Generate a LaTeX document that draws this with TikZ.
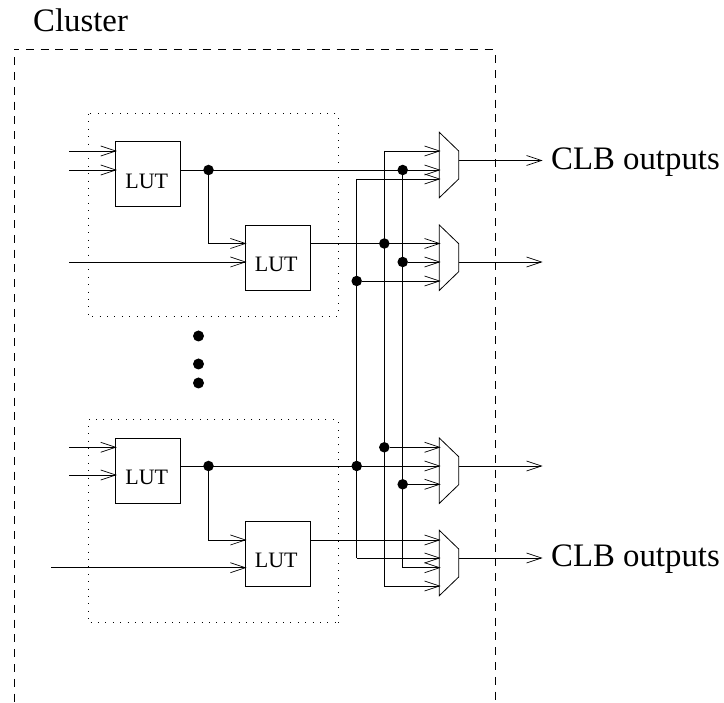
\documentclass[tikz,border=0pt]{standalone}
\usepackage{fontspec}
\setmainfont{Liberation Serif}
\usetikzlibrary{arrows.meta}
\tikzset{
  wire/.style={line width=0.9pt},
  arr/.style={wire,-{Straight Barb[length=15pt,width=10pt,line width=0.7pt]}},
  lut/.style={draw,line width=0.9pt,minimum width=65pt,minimum height=65pt,inner sep=0pt,
     font=\fontsize{22}{22}\selectfont,text height=29pt,text depth=0pt},
  junction/.style={circle,fill=black,inner sep=0pt,minimum size=10.5pt},
  bigdot/.style={circle,fill=black,inner sep=0pt,minimum size=11pt},
  dashedbox/.style={line width=0.9pt,dash pattern=on 8pt off 6.8pt},
  dottedbox/.style={line width=1pt,dash pattern=on 1pt off 6.4pt},
  lbl/.style={anchor=base west,inner sep=0pt,font=\fontsize{32.8}{33}\selectfont},
  muxshape/.style={line width=0.8pt}
}
\newcommand{\muxat}[2]{%
  \coordinate (#1) at (439.3,#2);
  \draw[muxshape] (#1) -- ++(19.4,18.7) -- ++(0,28) -- ++(-19.4,18.7) -- cycle;
}
\begin{document}
\begin{tikzpicture}[x=1pt,y=-1pt]
\useasboundingbox (0,0) rectangle (724,703);
% outer cluster
\coordinate (ctl) at (14,49.5);
\coordinate (ctr) at (495,49.5);
\coordinate (cbl) at (14,703);
\coordinate (cbr) at (495,699.5);
\draw[dashedbox,dash phase=3pt] (ctl) -- (ctr);
\draw[dashedbox,dash phase=7pt] (ctl) -- (cbl);
\draw[dashedbox,dash phase=9pt] (ctr) -- (cbr);
\node[lbl] (cluster) at (33,31.5) {Cluster};
% dotted groups
\draw[dottedbox] (88,114) rectangle (338,317);
\draw[dottedbox] (338,623) -- (338,420) -- (88,420) -- (88,623) -- (338,623);
% LUTs
\node[lut] (l1) at (148.2,174.2) {\hspace*{-3pt}LUT};
\node[lut] (l2) at (277.8,257.5) {\hspace*{-3pt}LUT};
\node[lut] (l3) at (148.2,470.5) {\hspace*{-3pt}LUT};
\node[lut] (l4) at (277.8,553.5) {\hspace*{-3pt}LUT};
% muxes
\muxat{m1}{132.3}
\muxat{m2}{225}
\muxat{m3}{438}
\muxat{m4}{530.3}
% input stubs
\coordinate (s1a) at (69,151);
\coordinate (s1b) at (69,170);
\coordinate (s2b) at (69,262);
\coordinate (s3a) at (69,447.3);
\coordinate (s3b) at (69,475);
\coordinate (s4b) at (51,567.7);
\coordinate (t1a) at (116.8,151);
\coordinate (t1b) at (116.8,170);
\coordinate (t2a) at (246.5,243.5);
\coordinate (t2b) at (246.5,262);
\coordinate (t3a) at (116.8,447.3);
\coordinate (t3b) at (116.8,475);
\coordinate (t4a) at (246.5,540);
\coordinate (t4b) at (246.5,567.7);
\draw[arr] (s1a) -- (t1a);
\draw[arr] (s1b) -- (t1b);
\draw[arr] (s2b) -- (t2b);
\draw[arr] (s3a) -- (t3a);
\draw[arr] (s3b) -- (t3b);
\draw[arr] (s4b) -- (t4b);
% mux input points
\coordinate (i1a) at (440.7,151);
\coordinate (i1b) at (440.7,170);
\coordinate (i1c) at (440.7,179);
\coordinate (i2a) at (440.7,243.5);
\coordinate (i2b) at (440.7,262);
\coordinate (i2c) at (440.7,281);
\coordinate (i3a) at (440.7,447.3);
\coordinate (i3b) at (440.7,466);
\coordinate (i3c) at (440.7,484.3);
\coordinate (i4a) at (440.7,540);
\coordinate (i4b) at (440.7,558);
\coordinate (i4c) at (440.7,567.7);
\coordinate (i4d) at (440.7,586);
% corners of the vertical buses
\coordinate (va) at (384.3,151);
\coordinate (vb) at (356.7,179);
\coordinate (vab) at (384.3,586);
\coordinate (vbb) at (356.7,558);
\coordinate (vcb) at (402.7,567.7);
% junctions
\node[junction] (j1) at (208.5,170) {};
\node[junction] (j3) at (208.5,466) {};
\node[junction] (k1) at (402.7,170) {};
\node[junction] (k2a) at (384.3,243.5) {};
\node[junction] (k2b) at (402.7,262) {};
\node[junction] (k2c) at (356.7,281) {};
\node[junction] (k3a) at (384.3,447.3) {};
\node[junction] (k3b) at (356.7,466) {};
\node[junction] (k3c) at (402.7,484.3) {};
% LUT outputs
\coordinate (o1) at (l1.east |- i1b);
\coordinate (o2) at (l2.east |- i2a);
\coordinate (o3) at (l3.east |- i3b);
\coordinate (o4) at (l4.east |- i4a);
\draw[arr] (o1) -- (i1b);
\draw[arr] (o2) -- (i2a);
\draw[arr] (o3) -- (i3b);
\draw[arr] (o4) -- (i4a);
% feedback into second LUTs
\draw[arr] (j1) |- (t2a);
\draw[arr] (j3) |- (t4a);
% buses
\draw[wire] (k1) -- (vcb);
\draw[arr] (va) -- (i1a);
\draw[arr] (vb) -- (i1c);
\draw[wire] (va) -- (vab);
\draw[wire] (vb) -- (vbb);
\draw[arr] (k2b) -- (i2b);
\draw[arr] (k2c) -- (i2c);
\draw[arr] (k3a) -- (i3a);
\draw[arr] (k3c) -- (i3c);
\draw[arr] (vbb) -- (i4b);
\draw[arr] (vcb) -- (i4c);
\draw[arr] (vab) -- (i4d);
% mux outputs
\coordinate (q1) at (458.7,160.5);
\coordinate (q2) at (458.7,262);
\coordinate (q3) at (458.7,466);
\coordinate (q4) at (458.7,558);
\coordinate (e1) at (542.7,160.5);
\coordinate (e2) at (542.7,262);
\coordinate (e3) at (542.7,466);
\coordinate (e4) at (542.7,558);
\draw[arr] (q1) -- (e1);
\draw[arr] (q2) -- (e2);
\draw[arr] (q3) -- (e3);
\draw[arr] (q4) -- (e4);
\node[lbl] (clb1) at (551,169.5) {CLB outputs};
\node[lbl] (clb2) at (551,567) {CLB outputs};
% ellipsis dots
\node[bigdot] (e5) at (198.5,336) {};
\node[bigdot] (e6) at (198.5,364) {};
\node[bigdot] (e7) at (198.5,383) {};
\end{tikzpicture}
\end{document}
